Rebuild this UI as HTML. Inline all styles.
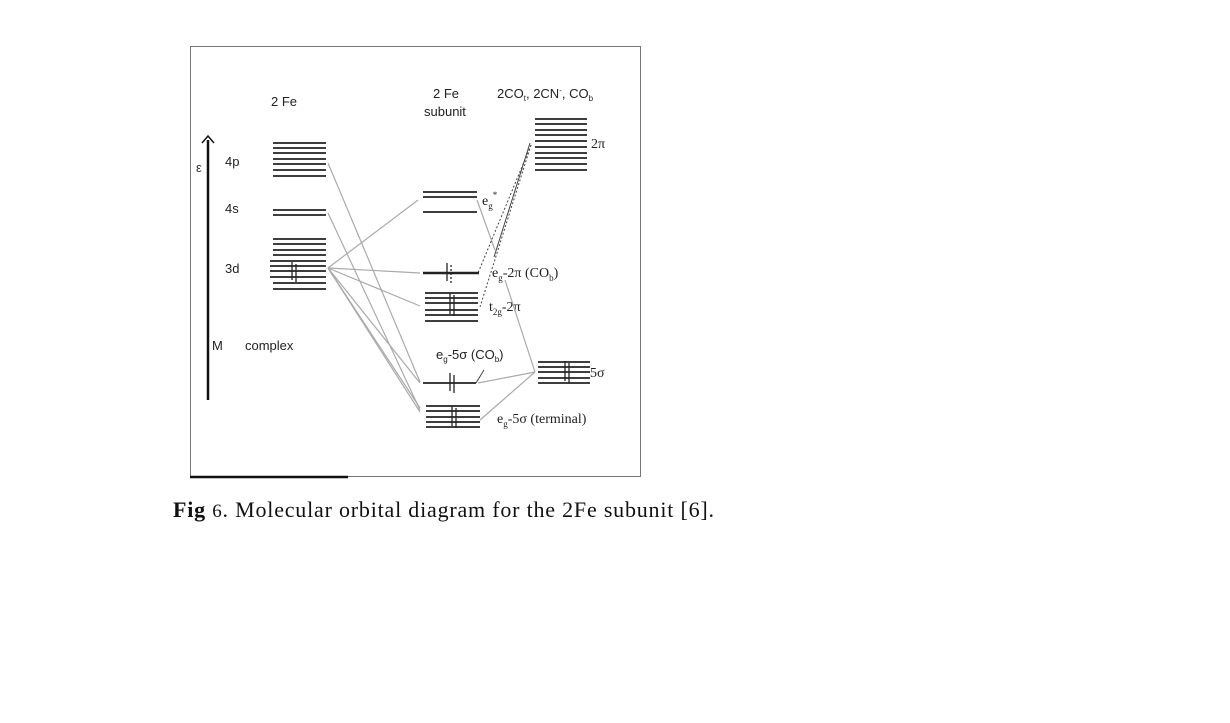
<!DOCTYPE html>
<html><head><meta charset="utf-8"><style>
html,body{margin:0;padding:0;background:#fff;}
svg{display:block;}
</style></head><body>
<svg width="1230" height="723" xmlns="http://www.w3.org/2000/svg" font-family="Liberation Sans, sans-serif">
<rect width="1230" height="723" fill="#fff"/>
<rect x="190.5" y="46.5" width="450" height="430" fill="none" stroke="#777" stroke-width="1"/>
<line x1="190" y1="477" x2="348" y2="477" stroke="#111" stroke-width="2.5"/>
<line x1="208" y1="140" x2="208" y2="400" stroke="#111" stroke-width="2.5"/>
<path d="M202 143 L208 136 L214 143" fill="none" stroke="#111" stroke-width="1.5"/>
<text x="196" y="172" font-size="13" fill="#333">ε</text>
<g fill="#222" font-size="13">
<text x="271" y="106">2 Fe</text>
<text x="225" y="166">4p</text>
<text x="225" y="213">4s</text>
<text x="225" y="273">3d</text>
<text x="212" y="350">M</text>
<text x="245" y="350">complex</text>
<text x="433" y="98">2 Fe</text>
<text x="424" y="116">subunit</text>
<text x="497" y="98">2CO<tspan font-size="8" dy="3">t</tspan><tspan dy="-3">, 2CN</tspan><tspan font-size="8" dy="-5">-</tspan><tspan dy="5">, CO</tspan><tspan font-size="8" dy="3">b</tspan></text>
<text x="436" y="359">e<tspan font-size="8" dy="3">g</tspan><tspan dy="-3">-5σ (CO</tspan><tspan font-size="8" dy="3">b</tspan><tspan dy="-3">)</tspan></text>
</g>
<g fill="#222" font-size="14" font-family="Liberation Serif, serif">
<text x="591" y="148">2π</text>
<text x="482" y="205">e<tspan font-size="9" dy="4">g</tspan><tspan font-size="9" dy="-11">*</tspan></text>
<text x="492" y="277">e<tspan font-size="9" dy="4">g</tspan><tspan dy="-4">-2π (CO</tspan><tspan font-size="9" dy="4">b</tspan><tspan dy="-4">)</tspan></text>
<text x="489" y="311">t<tspan font-size="9" dy="4">2g</tspan><tspan dy="-4">-2π</tspan></text>
<text x="590" y="377">5σ</text>
<text x="497" y="423">e<tspan font-size="9" dy="4">g</tspan><tspan dy="-4">-5σ (terminal)</tspan></text>
</g>
<g stroke="#aaa" stroke-width="1.2" fill="none">
<line x1="328" y1="268" x2="418" y2="200"/>
<line x1="328" y1="268" x2="420" y2="273"/>
<line x1="328" y1="268" x2="420" y2="306"/>
<line x1="328" y1="268" x2="420" y2="383"/>
<line x1="328" y1="268" x2="420" y2="408"/>
<line x1="328" y1="268" x2="420" y2="412"/>
<line x1="328" y1="163" x2="420" y2="382"/>
<line x1="328" y1="213" x2="420" y2="410"/>
<line x1="478" y1="383" x2="535" y2="372"/>
<line x1="480" y1="420" x2="535" y2="372"/>
<line x1="477" y1="200" x2="495" y2="250"/>
<line x1="505" y1="280" x2="535" y2="372"/>
</g>
<g stroke="#444" stroke-width="1" fill="none">
<line x1="530" y1="143" x2="494" y2="257"/>
<line x1="531" y1="145" x2="478" y2="273" stroke-dasharray="2,2"/>
<line x1="531" y1="145" x2="480" y2="307" stroke-dasharray="2,2"/>
<line x1="476" y1="383" x2="484" y2="370"/>
</g>
<g stroke="#222" stroke-width="1.8">
<line x1="273" y1="143" x2="326" y2="143"/><line x1="273" y1="148" x2="326" y2="148"/><line x1="273" y1="153" x2="326" y2="153"/><line x1="273" y1="159" x2="326" y2="159"/><line x1="273" y1="164" x2="326" y2="164"/><line x1="273" y1="170" x2="326" y2="170"/><line x1="273" y1="176" x2="326" y2="176"/>
<line x1="273" y1="210" x2="326" y2="210"/><line x1="273" y1="215" x2="326" y2="215"/>
<line x1="273" y1="239" x2="326" y2="239"/><line x1="273" y1="244" x2="326" y2="244"/><line x1="273" y1="250" x2="326" y2="250"/><line x1="273" y1="255" x2="326" y2="255"/><line x1="270" y1="261" x2="326" y2="261"/><line x1="270" y1="266" x2="326" y2="266"/><line x1="270" y1="271" x2="326" y2="271"/><line x1="270" y1="277" x2="326" y2="277"/><line x1="273" y1="283" x2="326" y2="283"/><line x1="273" y1="289" x2="326" y2="289"/>
<line x1="423" y1="192" x2="477" y2="192"/><line x1="423" y1="197" x2="477" y2="197"/><line x1="423" y1="212" x2="477" y2="212"/>
<line x1="423" y1="273" x2="479" y2="273" stroke-width="2.5"/>
<line x1="425" y1="293" x2="478" y2="293"/><line x1="425" y1="298" x2="478" y2="298"/><line x1="425" y1="303" x2="478" y2="303"/><line x1="425" y1="310" x2="478" y2="310"/><line x1="425" y1="315" x2="478" y2="315"/><line x1="425" y1="321" x2="478" y2="321"/>
<line x1="423" y1="383" x2="476" y2="383"/>
<line x1="426" y1="406" x2="480" y2="406"/><line x1="426" y1="411" x2="480" y2="411"/><line x1="426" y1="417" x2="480" y2="417"/><line x1="426" y1="422" x2="480" y2="422"/><line x1="426" y1="427" x2="480" y2="427"/>
<line x1="538" y1="362" x2="590" y2="362"/><line x1="538" y1="367" x2="590" y2="367"/><line x1="538" y1="372" x2="590" y2="372"/><line x1="538" y1="378" x2="590" y2="378"/><line x1="538" y1="383" x2="590" y2="383"/>
<line x1="535" y1="119" x2="587" y2="119"/><line x1="535" y1="124" x2="587" y2="124"/><line x1="535" y1="130" x2="587" y2="130"/><line x1="535" y1="135" x2="587" y2="135"/><line x1="535" y1="141" x2="587" y2="141"/><line x1="535" y1="147" x2="587" y2="147"/><line x1="535" y1="153" x2="587" y2="153"/><line x1="535" y1="158" x2="587" y2="158"/><line x1="535" y1="164" x2="587" y2="164"/><line x1="535" y1="170" x2="587" y2="170"/>
</g>
<g stroke="#222" stroke-width="1.3">
<line x1="292" y1="262" x2="292" y2="280"/><line x1="296" y1="264" x2="296" y2="282"/>
<line x1="447" y1="263" x2="447" y2="281"/><line x1="451" y1="265" x2="451" y2="283" stroke-dasharray="2,2"/>
<line x1="450" y1="293" x2="450" y2="314"/><line x1="454" y1="295" x2="454" y2="316"/>
<line x1="450" y1="373" x2="450" y2="391"/><line x1="454" y1="375" x2="454" y2="393"/>
<line x1="452" y1="406" x2="452" y2="426"/><line x1="456" y1="408" x2="456" y2="428"/>
<line x1="565" y1="361" x2="565" y2="381"/><line x1="569" y1="363" x2="569" y2="383"/>
</g>
<text x="173" y="517" font-family="Liberation Serif, serif" font-size="22" fill="#111" textLength="541" lengthAdjust="spacing"><tspan font-weight="bold">Fig</tspan> <tspan font-size="19">6</tspan>. Molecular orbital diagram for the 2Fe subunit [6].</text>
</svg>
</body></html>
